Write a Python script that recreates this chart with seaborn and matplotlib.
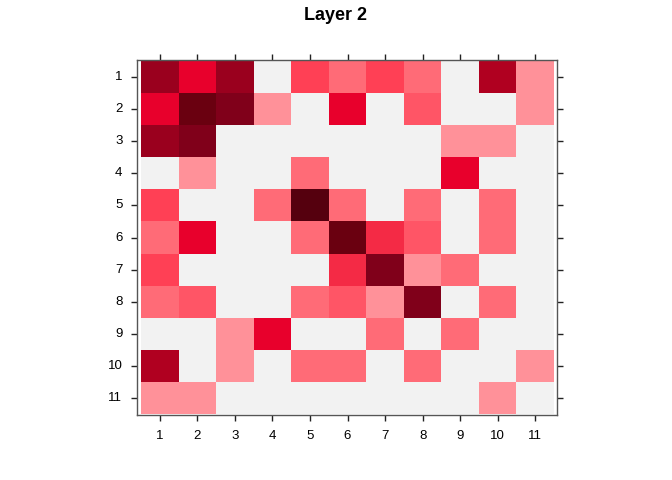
import numpy as np
import pandas as pd
import matplotlib
matplotlib.use("Agg")
import matplotlib.pyplot as plt
import seaborn as sns
from matplotlib.colors import ListedColormap, BoundaryNorm

labels = [str(i) for i in range(1, 12)]

# discrete levels (0 = empty)
layer2 = [
    [8, 6, 8, 0, 4, 2, 4, 2, 0, 7, 1],
    [6, 10, 9, 1, 0, 6, 0, 3, 0, 0, 1],
    [8, 9, 0, 0, 0, 0, 0, 0, 1, 1, 0],
    [0, 1, 0, 0, 2, 0, 0, 0, 6, 0, 0],
    [4, 0, 0, 2, 11, 2, 0, 2, 0, 2, 0],
    [2, 6, 0, 0, 2, 10, 5, 3, 0, 2, 0],
    [4, 0, 0, 0, 0, 5, 9, 1, 2, 0, 0],
    [2, 3, 0, 0, 2, 3, 1, 9, 0, 2, 0],
    [0, 0, 1, 6, 0, 0, 2, 0, 2, 0, 0],
    [7, 0, 1, 0, 2, 2, 0, 2, 0, 0, 1],
    [1, 1, 0, 0, 0, 0, 0, 0, 0, 1, 0],
]

level_colors = ["#F2F2F2", "#FF9199", "#FF6B77", "#FF5566", "#FF4055",
                "#F42A45", "#E8002C", "#B00020", "#9A001E", "#80001A",
                "#6A0010", "#55000E"]

df = pd.DataFrame(layer2, index=labels, columns=labels)
cmap = ListedColormap(level_colors)
norm = BoundaryNorm(np.arange(-0.5, len(level_colors) + 0.5), cmap.N)

plt.rcParams['font.family'] = ['Liberation Sans', 'DejaVu Sans']
fig = plt.figure(figsize=(6.72, 4.8), dpi=100)
ax = fig.add_axes([0.2039, 0.1354, 0.625, 0.7396])
sns.heatmap(df, cmap=cmap, norm=norm, cbar=False, ax=ax, linewidths=0)

# lattice leaves a little room between the cells and the frame
ax.set_xlim(-0.107, 11.08)
ax.set_ylim(11.03, -0.03)

for s in ax.spines.values():
    s.set_visible(True)
    s.set_color("#555555")
    s.set_linewidth(1.0)

ax.tick_params(axis='both', which='both', direction='out', length=4.5, width=1,
               color='#222222', labelsize=9.5, top=True, right=True,
               labeltop=False, labelright=False)
ax.tick_params(axis='x', pad=6)
ax.tick_params(axis='y', pad=6)
ax.set_xticklabels(labels, rotation=0)
ax.set_yticklabels(labels, rotation=0)
ax.set_xlabel("")
ax.set_ylabel("")

fig.text(0.5, 1 - 16 / 480, "Layer 2", ha='center', va='center',
         fontsize=13, fontweight='bold')
fig.savefig("out.png", dpi=100)
